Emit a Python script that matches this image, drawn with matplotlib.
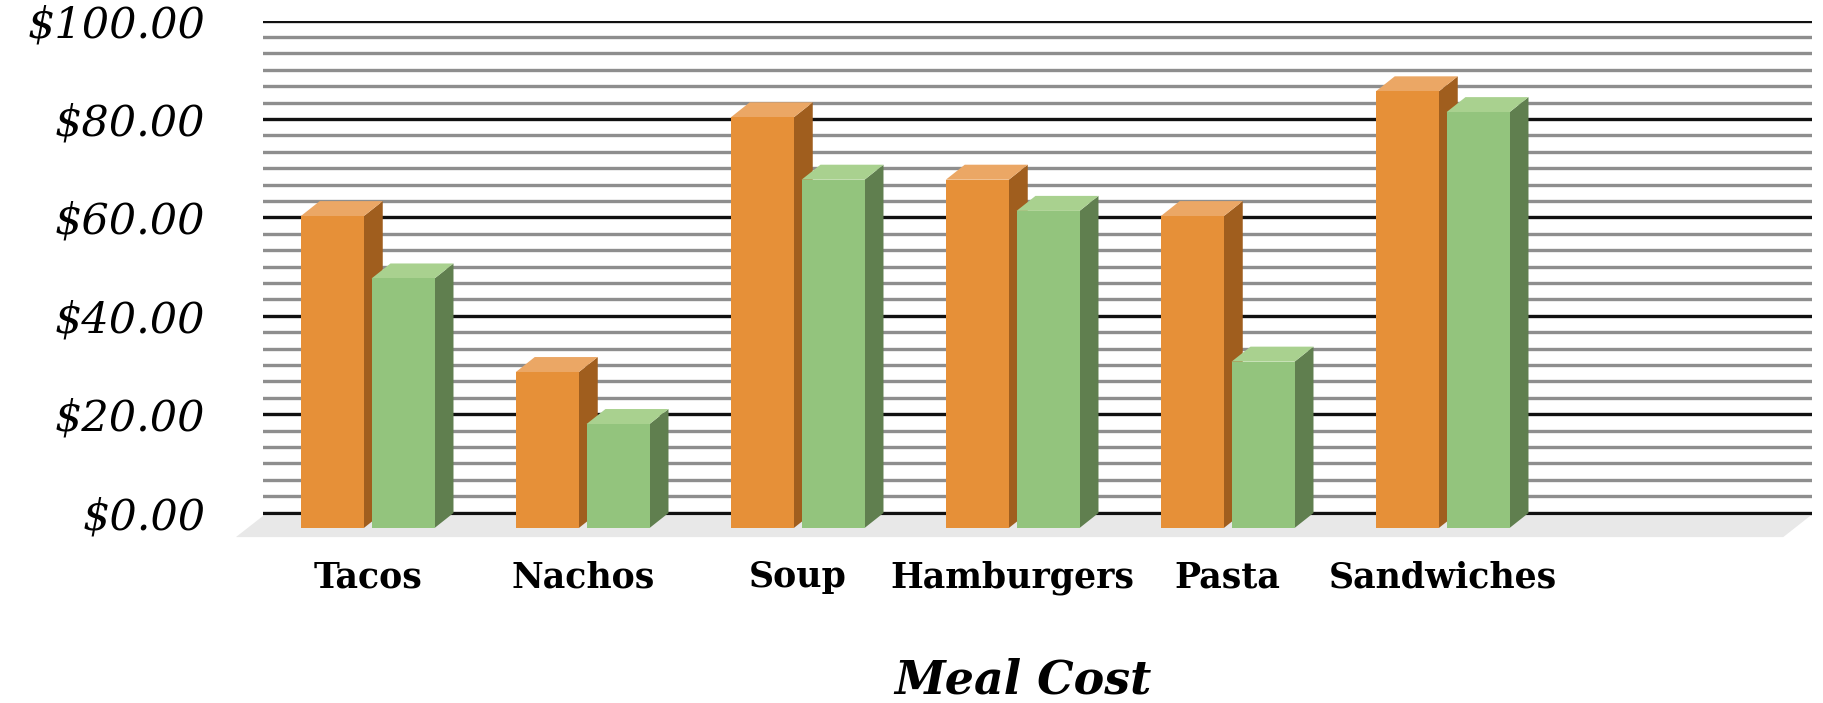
import numpy as np
import matplotlib
matplotlib.use("Agg")
import matplotlib.pyplot as plt
from matplotlib.ticker import FixedLocator

# data
meals = ["Tacos", "Nachos", "Soup", "Hamburgers", "Pasta", "Sandwiches"]
cost_orange = [60, 30, 79, 67, 60, 84]
cost_green = [48, 20, 67, 61, 32, 80]
y_ticks = [0, 20, 40, 60, 80, 100]

W, H, DPI = 1823, 703, 100
fig = plt.figure(figsize=(W / DPI, H / DPI), dpi=DPI)

# the axes is the back wall of the fake 3d chart
left_px, right_px = 263, 1812
top_px, base_px = 20.7, 512.5      # rows of $100 and $0
ppu = (base_px - top_px) / 100.0
ymin = -6
bottom_px = base_px - ymin * ppu
first_center, step = 367.7, 215.0
ax = fig.add_axes([left_px / W, (H - bottom_px) / H,
                   (right_px - left_px) / W, (bottom_px - top_px) / H])
ax.set_xlim((left_px - first_center) / step, (right_px - first_center) / step)
ax.set_ylim(ymin, 100)

# grid: black every $20, grey lines in between
ax.set_axisbelow(True)
ax.yaxis.set_minor_locator(FixedLocator(np.arange(0, 100.1, 20 / 6)))
ax.grid(which="major", axis="y", color="#111111", lw=2.4)
ax.grid(which="minor", axis="y", color="#8e8e8e", lw=2.4)
ax.set_yticks(y_ticks, labels=[f"${v:.2f}" for v in y_ticks],
              fontsize=31, fontstyle="italic", family="DejaVu Serif")
ax.tick_params(axis="y", which="both", length=0, pad=41.5)
ax.set_xticks([])
for s in ax.spines.values():
    s.set_visible(False)

# floor
ax.fill([-0.613, 6.584, 6.709, -0.487], [-5.0, -5.0, -0.7, -0.7],
        color="#e8e8e8", lw=0, zorder=1, clip_on=False)

# 3d bars (front face sits a bit in front of the wall)
bw = 0.293
half_gap = 0.018
front_base, front_k = -3.15, 1.057
dx, dy = 0.088, 3.05


def bar3d(x0, v, c_front, c_top, c_side):
    x1 = x0 + bw
    y0 = front_base
    y1 = front_base + v * front_k
    ax.fill([x1, x1 + dx, x1 + dx, x1], [y0, y0 + dy, y1 + dy, y1],
            color=c_side, lw=0, zorder=3, clip_on=False)
    ax.fill([x0, x0 + dx, x1 + dx, x1], [y1, y1 + dy, y1 + dy, y1],
            color=c_top, lw=0, zorder=3, clip_on=False)
    ax.fill([x0, x1, x1, x0], [y0, y0, y1, y1],
            color=c_front, lw=0, zorder=3, clip_on=False)


for i, name in enumerate(meals):
    bar3d(i - half_gap - bw, cost_orange[i], "#e69038", "#eba765", "#a05e1e")
    bar3d(i + half_gap, cost_green[i], "#93c47d", "#a9d18f", "#607f4f")
    ax.text(i, -15.15, name, ha="center", va="baseline", fontsize=25,
            fontweight="bold", family="DejaVu Serif", clip_on=False)

fig.text(1023 / W, (H - 694) / H, "Meal Cost", ha="center", va="baseline",
         fontsize=33, fontweight="bold", fontstyle="italic", family="DejaVu Serif")

fig.savefig("out.png", dpi=DPI)
plt.close(fig)
